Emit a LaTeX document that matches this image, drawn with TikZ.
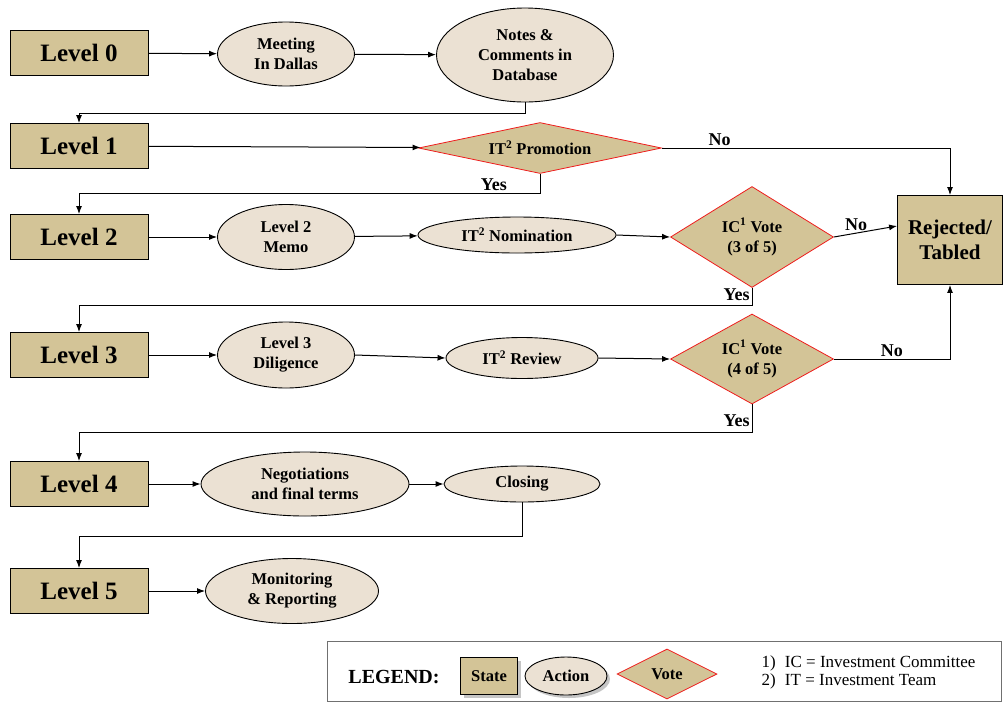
\documentclass[tikz,border=0pt]{standalone}
\usepackage{fontspec}
\setmainfont{Liberation Serif}
\usetikzlibrary{shapes.geometric, arrows.meta, positioning, shadows}
\definecolor{colorEstado}{HTML}{D3C497}
\definecolor{colorAccion}{HTML}{EBE1D3}
\definecolor{colorVoto}{HTML}{EE1C1C}
\definecolor{grisBorde}{HTML}{707070}

\begin{document}
\begin{tikzpicture}[x=1pt, y=-1pt, font=\bfseries, >=Latex,
        st/.style={draw, fill=colorEstado, line width=0.9pt, minimum width=138pt,
            minimum height=45pt, align=center, font=\bfseries\fontsize{25}{27}\selectfont},
        act/.style={ellipse, draw, fill=colorAccion, line width=0.9pt, inner sep=0pt,
            align=center, font=\bfseries\fontsize{16.5}{20}\selectfont},
        vote/.style={diamond, draw=colorVoto, fill=colorEstado, line width=0.8pt, inner sep=0pt,
            align=center, font=\bfseries\fontsize{16.5}{20}\selectfont},
        tr/.style={-{Latex[length=8pt, width=6pt]}, line width=1pt},
        lbl/.style={font=\bfseries\fontsize{18}{20}\selectfont, inner sep=2pt},
        leyenda/.style={font=\bfseries\fontsize{16.5}{19}\selectfont},
        sombra/.style={drop shadow={shadow xshift=3pt, shadow yshift=-3pt, fill=black!45}}]
        \useasboundingbox (0,0) rectangle (1003,702);
        % states
        \node[st] (l0) at (79,53) {Level 0};
        \node[st] (l1) at (79,146) {Level 1};
        \node[st] (l2) at (79,237) {Level 2};
        \node[st] (l3) at (79,355) {Level 3};
        \node[st] (l4) at (79,484) {Level 4};
        \node[st] (l5) at (79,591) {Level 5};
        \node[st, minimum width=105pt, minimum height=89pt, font=\bfseries\fontsize{21}{25}\selectfont] (rej) at (950,240) {Rejected/\\Tabled};
        % actions
        \node[act, minimum width=137pt, minimum height=64pt] (meet) at (286,54) {Meeting\\In Dallas};
        \node[act, minimum width=177pt, minimum height=94pt] (notes) at (525,55) {Notes \&\\Comments in\\Database};
        \node[act, minimum width=137pt, minimum height=65pt] (memo) at (286,237) {Level 2\\Memo};
        \node[act, minimum width=198pt, minimum height=36pt] (nomin) at (517,235) {IT\textsuperscript{2} Nomination};
        \node[act, minimum width=137pt, minimum height=66pt] (dilig) at (286,355) {Level 3\\Diligence};
        \node[act, minimum width=152pt, minimum height=41pt] (review) at (522,358) {IT\textsuperscript{2} Review};
        \node[act, minimum width=208pt, minimum height=64pt] (negot) at (305,484) {Negotiations\\and final terms};
        \node[act, minimum width=156pt, minimum height=36pt] (closing) at (522,484) {Closing};
        \node[act, minimum width=173pt, minimum height=65pt] (monit) at (292,591) {Monitoring\\\& Reporting};
        % votes
        \node[vote, aspect=4.76, minimum width=243pt, minimum height=51pt] (promo) at (540,148) {IT\textsuperscript{2} Promotion};
        \node[vote, aspect=1.6, minimum width=163pt, minimum height=101pt] (vote3) at (752,237) {IC\textsuperscript{1} Vote\\(3 of 5)};
        \node[vote, aspect=1.8, minimum width=163pt, minimum height=90pt] (vote4) at (752,359) {IC\textsuperscript{1} Vote\\(4 of 5)};
        % flow
        \draw[tr] (l0) -- (meet);
        \draw[tr] (meet) -- (notes);
        \draw[tr] (notes.south) |- (525,113) -| (l1.north);
        \draw[tr] (l1) -- (promo);
        \draw[tr] (promo.east) -| node[lbl, pos=0.1, above] {No} (rej.north);
        \draw[tr] (promo.south) -- (540,193) -| node[lbl, pos=0.05, above] {Yes} (l2.north);
        \draw[tr] (l2.east) -- (memo.west);
        \draw[tr] (memo) -- (nomin);
        \draw[tr] (nomin.east) -- (vote3.west);
        \draw[tr] (vote3.east) -- node[lbl, above, pos=0.35] {No} (rej.west |- 0,226);
        \draw[tr] (vote3.south) |- node[lbl, pos=0.2, left] {Yes} (752,305) -| (l3.north);
        \draw[tr] (l3.east) -- (dilig.west);
        \draw[tr] (dilig.east) -- (review.west);
        \draw[tr] (review.east) -- (vote4.west);
        \draw[tr] (vote4.east) -| node[lbl, pos=0.25, above] {No} (rej.south);
        \draw[tr] (vote4.south) |- node[lbl, pos=0.3, left] {Yes} (752,432) -| (l4.north);
        \draw[tr] (l4) -- (negot);
        \draw[tr] (negot) -- (closing);
        \draw[tr] (closing.south) |- (522,536) -| (l5.north);
        \draw[tr] (l5) -- (monit);
        % legend
        \draw[grisBorde, line width=1pt] (327,641) rectangle (1001,701);
        \node[font=\bfseries\fontsize{20}{22}\selectfont] (leg) at (394,677) {LEGEND:};
        \node[st, sombra, minimum width=57pt, minimum height=37pt, leyenda] (ls) at (489,676) {State};
        \node[act, sombra, minimum width=82pt, minimum height=38pt, leyenda] (la) at (566,676) {Action};
        \node[vote, aspect=2, minimum width=100pt, minimum height=50pt, leyenda] (lv) at (667,674) {Vote};
        \node[anchor=west, align=left, font=\fontsize{17}{18}\selectfont] (ln) at (758,672)
            {1)\hspace{5pt} IC = Investment Committee\\2)\hspace{5pt} IT = Investment Team};
    \end{tikzpicture}
\end{document}
